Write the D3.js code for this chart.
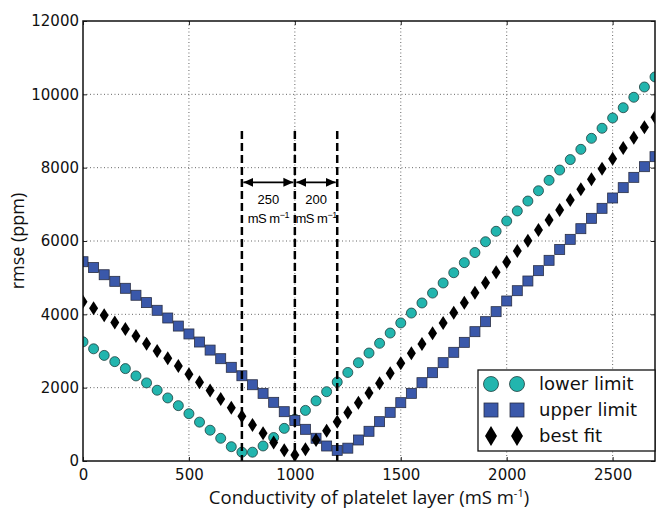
<!DOCTYPE html>
<html>
<head>
<meta charset="utf-8">
<script src="https://cdn.jsdelivr.net/npm/d3@7"></script>
<style>
  body { margin: 0; background: #fff; }
  svg { display: block; }
</style>
</head>
<body>
<div id="chart"></div>
<script>
// conductivity steps (mS m-1)
const conductivity = d3.range(0, 2701, 50);

// rmse (ppm)
const lowerLimit = [3250, 3060, 2880, 2710, 2520, 2320, 2130, 1930, 1720, 1510, 1290, 1060, 840, 620, 390, 240,
  240, 410, 640, 890, 1140, 1380, 1640, 1890, 2155, 2415, 2680, 2945, 3210, 3490, 3765, 4035, 4310, 4580, 4855,
  5135, 5410, 5685, 5980, 6265, 6545, 6820, 7090, 7370, 7655, 7935, 8220, 8500, 8800, 9075, 9355, 9635, 9920,
  10200, 10475];
const upperLimit = [5435, 5275, 5080, 4900, 4710, 4520, 4320, 4110, 3900, 3680, 3465, 3245, 3025, 2790, 2555,
  2325, 2080, 1845, 1600, 1345, 1105, 864, 620, 409, 290, 350, 573, 810, 1073, 1327, 1591, 1845, 2136, 2409,
  2682, 2964, 3236, 3527, 3800, 4073, 4364, 4645, 4909, 5191, 5473, 5770, 6045, 6336, 6618, 6891, 7173, 7455,
  7736, 8027, 8300];
const bestFit = [4345, 4165, 3975, 3780, 3600, 3410, 3200, 3000, 2800, 2590, 2365, 2145, 1920, 1690, 1455, 1220,
  985, 760, 505, 295, 165, 318, 573, 822, 1073, 1320, 1591, 1855, 2118, 2391, 2664, 2936, 3191, 3482, 3764,
  4045, 4318, 4591, 4864, 5145, 5427, 5730, 6009, 6300, 6573, 6845, 7118, 7409, 7682, 7973, 8245, 8536, 8818,
  9100, 9373];

const xTicks = [0, 500, 1000, 1500, 2000, 2500];
const yTicks = [0, 2000, 4000, 6000, 8000, 10000, 12000];

// vertical markers and the spans between them
const markerLines = [750, 1000, 1200];
const markerTop = 9000;
const spanY = 7600;
const spans = [
  { from: 750, to: 1000, value: '250', unit: 'mS m' },
  { from: 1000, to: 1200, value: '200', unit: 'mS m' }
];

const seriesNames = ['lower limit', 'upper limit', 'best fit'];

const margin = { top: 21, right: 3, bottom: 48, left: 83 };
const width = 658 - margin.left - margin.right;
const height = 509 - margin.top - margin.bottom;

const svg = d3.select('#chart')
  .append('svg')
  .attr('width', 658)
  .attr('height', 509);

const g = svg.append('g')
  .attr('transform', `translate(${margin.left},${margin.top})`);

const x = d3.scaleLinear().domain([0, 2700]).range([0, width]);
const y = d3.scaleLinear().domain([0, 12000]).range([height, 0]);

g.append('clipPath').attr('id', 'plotClip')
  .append('rect').attr('width', width).attr('height', height);

// dotted grid
g.append('g')
  .selectAll('line')
  .data(xTicks.slice(1))
  .enter()
  .append('line')
  .attr('x1', d => x(d)).attr('x2', d => x(d))
  .attr('y1', 0).attr('y2', height)
  .attr('stroke', '#666').attr('stroke-width', 1).attr('stroke-dasharray', '1,2.5');

g.append('g')
  .selectAll('line')
  .data(yTicks.slice(1, -1))
  .enter()
  .append('line')
  .attr('y1', d => y(d)).attr('y2', d => y(d))
  .attr('x1', 0).attr('x2', width)
  .attr('stroke', '#666').attr('stroke-width', 1).attr('stroke-dasharray', '1,2.5');

// axes with inward ticks
const tickFont = '"DejaVu Sans", sans-serif';

const xAxis = g.append('g')
  .attr('transform', `translate(0,${height})`)
  .call(d3.axisBottom(x).tickValues(xTicks).tickSize(-4).tickPadding(8).tickFormat(d3.format('d')));
const yAxis = g.append('g')
  .call(d3.axisLeft(y).tickValues(yTicks).tickSize(-4).tickPadding(4).tickFormat(d3.format('d')));
g.append('g')
  .call(d3.axisTop(x).tickValues(xTicks).tickSize(-4).tickFormat(''));
g.append('g')
  .attr('transform', `translate(${width},0)`)
  .call(d3.axisRight(y).tickValues(yTicks).tickSize(-4).tickFormat(''));

g.selectAll('.domain').remove();
g.selectAll('.tick line').attr('stroke', '#222');
xAxis.selectAll('text').style('font-family', tickFont).style('font-size', '15px').attr('fill', '#111');
yAxis.selectAll('text').style('font-family', tickFont).style('font-size', '15px').attr('fill', '#111');

// markers
const plot = g.append('g').attr('clip-path', 'url(#plotClip)');

const circleColor = '#22b5ae';
const squareColor = '#3a58aa';

plot.append('g')
  .selectAll('circle')
  .data(conductivity)
  .enter()
  .append('circle')
  .attr('cx', d => x(d))
  .attr('cy', (d, i) => y(lowerLimit[i]))
  .attr('r', 5)
  .attr('fill', circleColor)
  .attr('stroke', '#1f3f3d').attr('stroke-width', 0.8);

plot.append('g')
  .selectAll('rect')
  .data(conductivity)
  .enter()
  .append('rect')
  .attr('x', d => x(d) - 5)
  .attr('y', (d, i) => y(upperLimit[i]) - 5)
  .attr('width', 10).attr('height', 10)
  .attr('fill', squareColor)
  .attr('stroke', '#2a2f44').attr('stroke-width', 0.8);

const diamond = (cx, cy) => `M${cx},${cy - 7}L${cx + 4.5},${cy}L${cx},${cy + 7}L${cx - 4.5},${cy}Z`;

plot.append('g')
  .selectAll('path')
  .data(conductivity)
  .enter()
  .append('path')
  .attr('d', (d, i) => diamond(x(d), y(bestFit[i])))
  .attr('fill', '#000');

// dashed markers
g.append('g')
  .selectAll('line')
  .data(markerLines)
  .enter()
  .append('line')
  .attr('x1', d => x(d)).attr('x2', d => x(d))
  .attr('y1', y(markerTop)).attr('y2', y(0))
  .attr('stroke', '#000').attr('stroke-width', 2.5).attr('stroke-dasharray', '8,4');

// double arrows
const defs = svg.append('defs');
defs.append('marker').attr('id', 'head')
  .attr('viewBox', '0 0 10 10').attr('refX', 10).attr('refY', 5)
  .attr('markerWidth', 10).attr('markerHeight', 10).attr('markerUnits', 'userSpaceOnUse')
  .attr('orient', 'auto-start-reverse')
  .append('path').attr('d', 'M0,0.5L10,5L0,9.5Z').attr('fill', '#000');

const spanG = g.append('g');
spans.forEach(s => {
  spanG.append('line')
    .attr('x1', x(s.from) + 1.5).attr('x2', x(s.to) - 1.5)
    .attr('y1', y(spanY)).attr('y2', y(spanY))
    .attr('stroke', '#000').attr('stroke-width', 1.6)
    .attr('marker-start', 'url(#head)').attr('marker-end', 'url(#head)');
  const cx = (x(s.from) + x(s.to)) / 2;
  spanG.append('text')
    .attr('x', cx).attr('y', y(spanY) + 22)
    .attr('text-anchor', 'middle')
    .style('font-family', '"Liberation Sans", Arial, sans-serif').style('font-size', '13px')
    .text(s.value);
  const t = spanG.append('text')
    .attr('x', cx).attr('y', y(spanY) + 41)
    .attr('text-anchor', 'middle')
    .style('font-family', '"Liberation Sans", Arial, sans-serif').style('font-size', '13px')
    .style('letter-spacing', '-0.5px');
  t.append('tspan').text(s.unit);
  t.append('tspan').attr('dy', -5).style('font-size', '9px').text('−1');
});

// frame
g.append('rect')
  .attr('width', width).attr('height', height)
  .attr('fill', 'none').attr('stroke', '#111').attr('stroke-width', 1.5);

// legend
const legend = g.append('g').attr('transform', `translate(${width - 177},${height - 91})`);
legend.append('rect')
  .attr('width', 177).attr('height', 81)
  .attr('fill', '#fff').attr('stroke', '#111').attr('stroke-width', 1.3);

const rowY = [14, 40, 66];
seriesNames.forEach((name, i) => {
  const row = legend.append('g').attr('transform', `translate(0,${rowY[i]})`);
  [13, 39].forEach(mx => {
    if (i === 0) {
      row.append('circle').attr('cx', mx).attr('cy', 0).attr('r', 7.5)
        .attr('fill', circleColor).attr('stroke', '#1f3f3d').attr('stroke-width', 0.8);
    } else if (i === 1) {
      row.append('rect').attr('x', mx - 7).attr('y', -7).attr('width', 14).attr('height', 14)
        .attr('fill', squareColor).attr('stroke', '#2a2f44').attr('stroke-width', 0.8);
    } else {
      row.append('path').attr('d', `M${mx},-10L${mx + 6},0L${mx},10L${mx - 6},0Z`).attr('fill', '#000');
    }
  });
  row.append('text')
    .attr('x', 61).attr('y', 0).attr('dy', '0.35em')
    .style('font-family', '"DejaVu Sans", sans-serif').style('font-size', '18px')
    .attr('fill', '#111')
    .text(name);
});

// axis labels
const xLabel = svg.append('text')
  .attr('x', margin.left + width / 2).attr('y', 504)
  .attr('text-anchor', 'middle')
  .style('font-family', '"Open Sans", sans-serif').style('font-size', '18.5px')
  .attr('fill', '#111');
xLabel.append('tspan').text('Conductivity of platelet layer (mS m');
xLabel.append('tspan').attr('dy', -7).style('font-size', '11px').text('-1');
xLabel.append('tspan').attr('dy', 7).text(')');

svg.append('text')
  .attr('transform', `translate(24,${margin.top + height / 2}) rotate(-90)`)
  .attr('text-anchor', 'middle')
  .style('font-family', '"Open Sans", sans-serif').style('font-size', '18px')
  .attr('fill', '#111')
  .text('rmse (ppm)');
</script>
</body>
</html>
